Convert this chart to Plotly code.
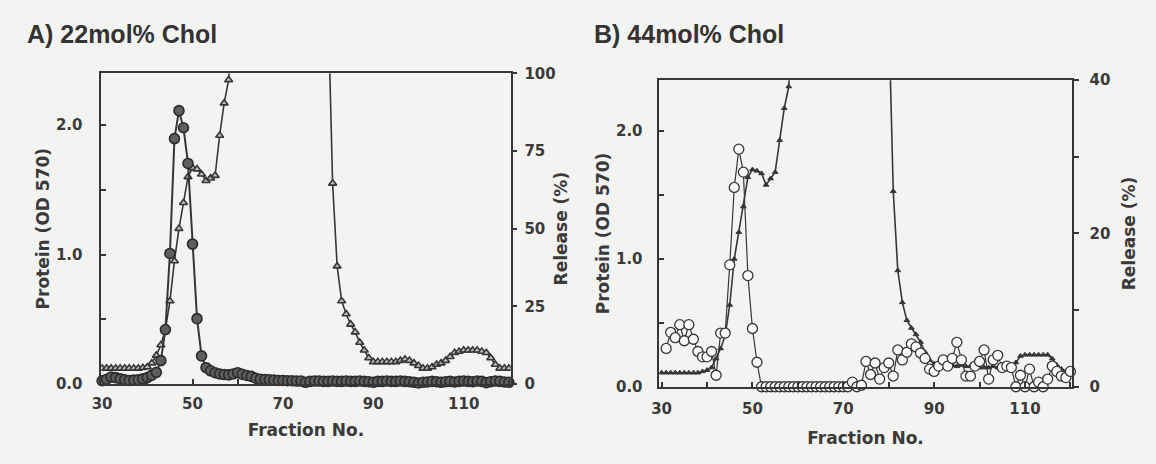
import plotly.graph_objects as go

# ---------------- data ----------------
# Panel A (22 mol% Chol)
frac_a_rel = list(range(30, 121))
release_a = [1.0, 1.5, 2.2, 2.0, 1.6, 1.3, 1.1, 1.2, 1.3, 1.6,
             2.0, 2.8, 3.7, 7.5, 17.5, 42, 79, 88, 82.5, 71,
             45, 21, 9, 5.2, 4.2, 3.6, 3.2, 3.0, 2.9, 3.2,
             3.6, 3.1, 2.7, 2.4, 1.8, 1.5, 1.4, 1.3, 1.2, 1.1,
             1.1, 1.0, 1.0, 0.9, 0.9, 0.5, 0.8, 0.9, 0.9, 0.8,
             0.8, 0.9, 0.8, 0.8, 0.9, 0.8, 0.8, 0.9, 0.8, 0.7,
             0.5, 0.8, 0.8, 0.9, 0.8, 0.8, 0.9, 0.8, 0.7, 0.5,
             0.3, 0.5, 0.6, 0.8, 0.7, 0.5, 0.7, 0.8, 0.6, 0.8,
             0.9, 0.8, 0.7, 0.9, 0.8, 0.4, 0.7, 0.9, 0.8, 0.6,
             0.5]

frac_a_prot = list(range(30, 60)) + list(range(80, 121))
protein_a = [0.12, 0.12, 0.12, 0.12, 0.12, 0.12, 0.12, 0.12, 0.12, 0.125,
             0.13, 0.16, 0.22, 0.30, 0.42, 0.64, 0.95, 1.20, 1.40, 1.60,
             1.67, 1.66, 1.62, 1.57, 1.59, 1.61, 1.92, 2.17, 2.35, 3.0,
             2.93, 1.55, 0.91, 0.64, 0.54, 0.46, 0.40, 0.32, 0.26, 0.20,
             0.17, 0.17, 0.17, 0.17, 0.17, 0.17, 0.18, 0.19, 0.18, 0.16,
             0.14, 0.12, 0.12, 0.13, 0.15, 0.16, 0.18, 0.21, 0.24, 0.25,
             0.26, 0.26, 0.26, 0.26, 0.25, 0.24, 0.20, 0.15, 0.12, 0.12,
             0.12]

# Panel B (44 mol% Chol)
frac_b_rel = list(range(31, 121))
release_b = [5.0, 7.1, 6.4, 8.1, 6.0, 8.1, 6.2, 4.6, 3.9, 3.9,
             4.6, 1.5, 7.0, 7.0, 15.9, 26, 31, 28, 14.5, 7.6,
             3.2, 0, 0, 0, 0, 0, 0, 0, 0, 0,
             0, 0, 0, 0, 0, 0, 0, 0, 0, 0,
             0, 0.6, 0, 0.2, 3.3, 1.6, 3.1, 1.0, 2.5, 3.1,
             1.4, 4.8, 3.5, 4.5, 5.6, 5.2, 4.4, 3.7, 2.3, 2.0,
             2.7, 3.5, 2.7, 3.7, 5.8, 3.5, 1.4, 1.4, 2.7, 3.3,
             4.8, 1.0, 3.5, 4.1, 2.5, 2.7, 2.5, 0.0, 1.5, 0.0,
             2.3, 0.0, 0.6, 0.0, 1.0, 2.7, 2.0, 1.4, 1.2, 2.0]

frac_b_prot = list(range(30, 60)) + list(range(80, 121))
protein_b = [0.11, 0.11, 0.11, 0.11, 0.11, 0.11, 0.11, 0.11, 0.11, 0.12,
             0.13, 0.15, 0.22, 0.30, 0.40, 0.64, 1.00, 1.21, 1.41, 1.64,
             1.70, 1.69, 1.67, 1.58, 1.63, 1.68, 1.93, 2.18, 2.35, 3.0,
             2.93, 1.53, 0.91, 0.66, 0.52, 0.46, 0.41, 0.35, 0.27, 0.21,
             0.18, 0.17, 0.17, 0.16, 0.17, 0.16, 0.17, 0.16, 0.16, 0.16,
             0.15, 0.15, 0.15, 0.16, 0.15, 0.16, 0.16, 0.16, 0.19, 0.24,
             0.25, 0.25, 0.25, 0.25, 0.25, 0.25, 0.22, 0.17, 0.14, 0.12,
             0.11]

x_tickvals = [30, 40, 50, 60, 70, 80, 90, 100, 110, 120]
x_ticktext = ["30", "", "50", "", "70", "", "90", "", "110", ""]
prot_tickvals = [0, 0.5, 1.0, 1.5, 2.0]
prot_ticktext = ["0.0", "", "1.0", "", "2.0"]
rel_a_tickvals = [0, 25, 50, 75, 100]
rel_a_ticktext = ["0", "25", "50", "75", "100"]
rel_b_tickvals = [0, 10, 20, 30, 40]
rel_b_ticktext = ["0", "", "20", "", "40"]

# ---------------- styling ----------------
INK = "#363636"
BG = "#f3f3f1"
TXT = "#3a3a3a"
tick_font = dict(family="DejaVu Sans", size=15, color=TXT, weight="bold")
title_font = dict(family="DejaVu Sans", size=17, color=TXT, weight="bold")

fig = go.Figure()

fig.add_trace(go.Scatter(
    x=frac_a_prot, y=protein_a, xaxis="x", yaxis="y", mode="lines+markers",
    line=dict(color=INK, width=1.6),
    marker=dict(symbol="triangle-up", size=7, color="#bdbdbd", line=dict(color=INK, width=1.6)),
    showlegend=False))
fig.add_trace(go.Scatter(
    x=frac_a_rel, y=release_a, xaxis="x", yaxis="y2", mode="lines+markers",
    line=dict(color=INK, width=2), cliponaxis=False,
    marker=dict(symbol="circle", size=10, color="#5e5e5e", line=dict(color="#2a2a2a", width=1.6)),
    showlegend=False))
fig.add_trace(go.Scatter(
    x=frac_b_prot, y=protein_b, xaxis="x2", yaxis="y3", mode="lines+markers",
    line=dict(color=INK, width=1.6),
    marker=dict(symbol="triangle-up", size=5, color=INK, line=dict(color=INK, width=1)),
    showlegend=False))
fig.add_trace(go.Scatter(
    x=frac_b_rel, y=release_b, xaxis="x2", yaxis="y4", mode="lines+markers",
    line=dict(color=INK, width=1.2), cliponaxis=False,
    marker=dict(symbol="circle", size=10, color="#fafafa", line=dict(color=INK, width=1.3)),
    showlegend=False))

axis_common = dict(showgrid=False, zeroline=False, showline=True, linecolor=INK,
                   linewidth=1.5, tickcolor=INK, tickwidth=1.5, ticklen=5,
                   tickfont=tick_font)

fig.update_layout(
    width=1156, height=464, autosize=False,
    margin=dict(l=0, r=0, t=0, b=0),
    paper_bgcolor=BG, plot_bgcolor=BG,
    xaxis=dict(domain=[0.0796, 0.4369], range=[29.8, 120.4], anchor="y",
               tickvals=x_tickvals, ticktext=x_ticktext, ticks="inside", mirror=True,
               ticklabelstandoff=5,
               title=dict(text="Fraction No.", font=title_font, standoff=12),
               **axis_common),
    yaxis=dict(domain=[0.1595, 0.8556], range=[0, 2.4], anchor="x",
               tickvals=prot_tickvals, ticktext=prot_ticktext, ticks="inside",
               ticklabelstandoff=14,
               title=dict(text="Protein (OD 570)", font=title_font, standoff=2),
               **axis_common),
    yaxis2=dict(overlaying="y", side="right", anchor="x", range=[0, 100],
                tickvals=rel_a_tickvals, ticktext=rel_a_ticktext, ticks="outside",
                ticklabelstandoff=4,
                title=dict(text="Release (%)", font=title_font, standoff=0),
                **axis_common),
    xaxis2=dict(domain=[0.5666, 0.9265], range=[29.5, 120.3], anchor="y3",
                tickvals=x_tickvals, ticktext=x_ticktext, ticks="inside", mirror=True,
                ticklabelstandoff=7,
                title=dict(text="Fraction No.", font=title_font, standoff=16),
                **axis_common),
    yaxis3=dict(domain=[0.1530, 0.8405], range=[0, 2.4], anchor="x2",
                tickvals=prot_tickvals, ticktext=prot_ticktext, ticks="inside",
                ticklabelstandoff=12,
                title=dict(text="Protein (OD 570)", font=title_font, standoff=2),
                **axis_common),
    yaxis4=dict(overlaying="y3", side="right", anchor="x2", range=[0, 40],
                tickvals=rel_b_tickvals, ticktext=rel_b_ticktext, ticks="outside",
                ticklabelstandoff=8,
                title=dict(text="Release (%)", font=title_font, standoff=14),
                **axis_common),
    annotations=[
        dict(text="A) 22mol% Chol", x=0.013, y=0.944, xref="paper", yref="paper",
             xanchor="left", yanchor="middle", showarrow=False,
             font=dict(family="Liberation Sans", size=25, color="#333333", weight="bold")),
        dict(text="B) 44mol% Chol", x=0.508, y=0.944, xref="paper", yref="paper",
             xanchor="left", yanchor="middle", showarrow=False,
             font=dict(family="Liberation Sans", size=25, color="#333333", weight="bold")),
    ],
)

fig.write_html("out.html")
